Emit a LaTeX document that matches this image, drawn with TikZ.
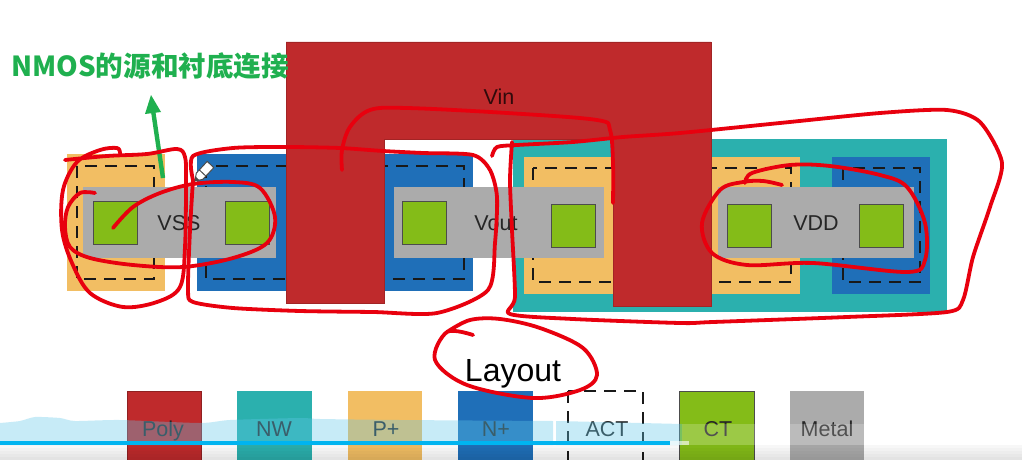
\documentclass[tikz,border=0pt]{standalone}
\usepackage{fontspec}
\setmainfont{Liberation Sans}
\newfontfamily\cjk{Noto Sans CJK SC}
\tikzset{
  x=1pt,y=-1pt,
  poly/.style={fill=cPoly,draw=cPoly!85!black,line width=.6pt},
  nw/.style={fill=cNW},
  pplus/.style={fill=cP},
  nplus/.style={fill=cN},
  metal/.style={fill=cM},
  ct/.style={fill=cCT,draw=black!70,line width=1pt},
  act/.style={draw=black!90,line width=1.3pt,dash pattern=on 12pt off 8pt},
  ink/.style={draw=cInk,line width=3.8pt,line cap=round,line join=round},
  lbl/.style={font=\fontsize{21.5}{24}\selectfont,text=black!85,inner sep=0pt,anchor=base},
}
\definecolor{cPoly}{HTML}{BF2A2C}
\definecolor{cNW}{HTML}{2BB0AE}
\definecolor{cP}{HTML}{F2BE63}
\definecolor{cN}{HTML}{1F6FB8}
\definecolor{cM}{HTML}{ABABAB}
\definecolor{cCT}{HTML}{84BC18}
\definecolor{cInk}{HTML}{E8000E}
\definecolor{cGreen}{HTML}{1FB04F}
\definecolor{cBand}{HTML}{61C8EA}
\definecolor{cBar}{HTML}{00B4F0}
\begin{document}
\begin{tikzpicture}
\useasboundingbox (0,0) rectangle (1022,460);
\clip (0,0) rectangle (1022,460);
\fill[white] (0,0) rectangle (1022,460);
% wells and implants
\fill[nw] (513,139) rectangle (947,312);
\fill[pplus] (67,154) rectangle (165,291);
\fill[nplus] (197,154) rectangle (473,291);
\fill[pplus] (524,157) rectangle (800,294);
\fill[nplus] (832,157) rectangle (930,294);
% active
\draw[act] (77,166) rectangle (154,279);
\draw[act] (206,166) rectangle (464,279);
\draw[act] (533,168) rectangle (791,282);
\draw[act] (843,168) rectangle (920,282);
% metal
\fill[metal] (83,187) rectangle (276,258);
\fill[metal] (394,187) rectangle (604,258);
\fill[metal] (718,187) rectangle (914,258);
% contacts
\draw[ct] (93,201) rectangle (137,244);
\draw[ct] (225,201) rectangle (269,244);
\draw[ct] (402,201) rectangle (446,244);
\draw[ct] (551,204) rectangle (595,247);
\draw[ct] (727,204) rectangle (771,247);
\draw[ct] (859,204) rectangle (903,247);
% poly
\fill[poly] (286,42) -- (711,42) -- (711,306) -- (613,306) -- (613,139) -- (384,139) -- (384,303) -- (286,303) -- cycle;
% labels
\node[lbl] (vss) at (179,230) {VSS};
\node[lbl] (vout) at (496,230) {Vout};
\node[lbl] (vdd) at (816,230) {VDD};
\node[lbl,text=black!75!cPoly] (vin) at (499,104) {Vin};
\node[font=\fontsize{32}{36}\selectfont,text=black,inner sep=0pt,anchor=base] (layout) at (513,381) {Layout};
\node[font=\fontsize{27.6}{30}\selectfont\bfseries\cjk,text=cGreen,inner sep=0pt,anchor=base west] (title) at (11,77) {NMOS的源和衬底连接};
% green arrow
\coordinate (tail) at (163,178);
\coordinate (tip) at (151,95);
\draw[cGreen,line width=4.4pt] (tail) -- (152.4,106);
\fill[cGreen] (tip) -- (161,112) -- (145,114) -- cycle;
% legend
\fill[poly] (127,391) rectangle (201,470);
\draw[cPoly!75!black,line width=.7pt] (127,391) rectangle (201,470);
\fill[nw] (237,391) rectangle (312,470);
\fill[pplus] (348,391) rectangle (422,470);
\fill[nplus] (458,391) rectangle (533,470);
\draw[act] (568,391) rectangle (643,470);
\draw[ct] (679,391) rectangle (754,470);
\fill[metal] (790,391) rectangle (864,470);
\node[lbl] (lpoly) at (163,436) {Poly};
\node[lbl] (lnw) at (274,436) {NW};
\node[lbl] (lp) at (386,436) {P+};
\node[lbl] (ln) at (496,436) {N+};
\node[lbl] (lact) at (607,436) {ACT};
\node[lbl] (lct) at (718,436) {CT};
\node[lbl] (lmetal) at (827,436) {Metal};
% red ink
\draw[ink] plot[smooth,tension=.55] coordinates {(120,153) (117,148) (100,150) (77,162) (63,190) (62,230) (72,263) (90,293) (123,307) (157,302) (180,287) (185,247) (186,180) (185,157) (177,149) (147,154) (107,156) (65,160)};
\draw[ink] plot[smooth,tension=.55] coordinates {(113,228) (133,207) (160,193) (193,184) (233,182) (260,188) (275,217) (267,243) (233,258) (183,267) (133,265) (90,258) (70,247) (65,227) (68,207) (80,193) (95,193)};
\draw[ink] plot[smooth,tension=.45] coordinates {(193,180) (193,156) (233,148) (287,147) (340,148) (383,151) (423,153) (473,155) (490,170) (497,197) (495,243) (488,290) (437,313) (373,312) (300,311) (233,308) (193,302) (188,290) (190,230) (193,180)};
\draw[ink] plot[smooth,tension=.55] coordinates {(342,170) (342,150) (350,127) (370,110) (407,108) (507,113) (597,120) (610,130) (613,163) (613,203)};
\draw[ink] plot[smooth,tension=.45] coordinates {(492,156) (497,147) (517,145) (573,142) (623,137) (680,133) (780,123) (880,113) (947,110) (980,122) (1002,163) (990,207) (973,257) (963,300) (947,312) (847,317) (713,322) (680,323) (573,319) (510,314) (515,297) (512,230) (510,180) (512,142)};
\draw[ink] plot[smooth,tension=.55] coordinates {(782,185) (763,181) (743,182) (720,190) (702,223) (712,253) (747,265) (813,263) (907,272) (925,260) (925,223) (907,187) (880,175) (830,166) (790,165) (752,173) (745,183)};
\draw[ink] plot[smooth,tension=.55] coordinates {(473,335) (447,332) (435,360) (467,385) (533,398) (580,390) (597,375) (583,348) (540,328) (500,319) (470,320) (447,332)};
% pencil cursor
\draw[black!70,fill=white,line width=1pt,line join=round] (213.8,167.6) -- (207.2,161.4) -- (196.3,173.1) -- (195,181) -- (202.9,179.3) -- cycle;
\draw[black!70,line width=1pt] (199.4,170) -- (206,176.2);
\fill[black!70] (195,181) -- (196,177) -- (199,180) -- cycle;
% video overlay
\fill[cBand,fill opacity=.35] plot[smooth,tension=.4] coordinates {(0,423) (20,421) (35,417) (60,418) (75,421) (120,420) (200,423) (230,420) (300,418) (320,419) (400,420) (553,421)} -- (553,445) -- (0,445) -- cycle;
\fill[cBand,fill opacity=.35] (556,421) -- (600,422) -- (682,424) -- (682,445) -- (556,445) -- cycle;
\fill[white,fill opacity=.2] (682,424) rectangle (1022,445);
\fill[cBar] (0,441) rectangle (670,445);
\fill[white,fill opacity=.6] (670,441) rectangle (689,445);
\foreach \yy/\op in {445/.03,448/.05,451/.07,454/.09,457/.11}{
  \fill[black,fill opacity=\op] (0,\yy) rectangle (1022,\yy+3);
}
\end{tikzpicture}
\end{document}
